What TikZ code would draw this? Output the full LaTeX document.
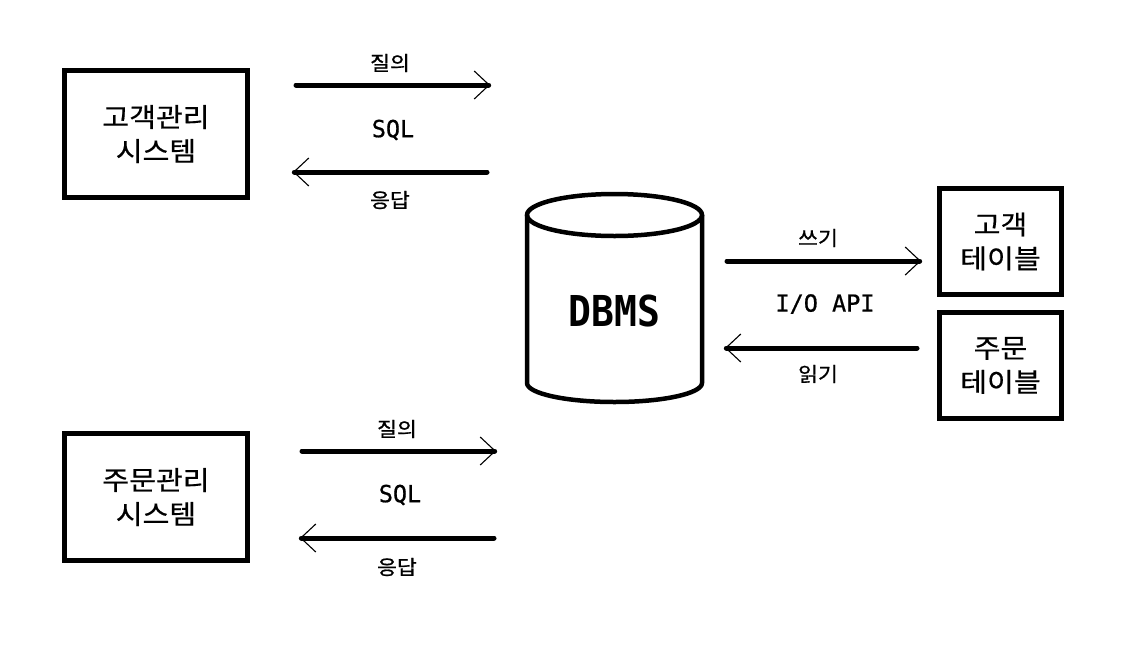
\documentclass[tikz,border=0pt]{standalone}
\usepackage{fontspec}
\setmainfont{Noto Sans CJK KR}
\newfontfamily\kofont[FakeStretch=1.1, FakeBold=0.5]{Noto Sans CJK KR}
\newfontfamily\kolbl[FakeStretch=1.08, FakeBold=0.8]{Noto Sans CJK KR}
\newfontfamily\monofont{DejaVu Sans Mono}
\newfontfamily\monomed[FakeBold=0.8]{DejaVu Sans Mono}
\usetikzlibrary{arrows.meta}
\begin{document}
\begin{tikzpicture}[x=1pt,y=-1pt,
  sysbox/.style={draw, line width=5pt, inner sep=0pt, font=\kofont\fontsize{26.5}{34}\selectfont, align=center},
  flow/.style={line width=5pt, line cap=round, -{Straight Barb[length=15pt,width=28pt,line width=1.1pt]}},
  lbl/.style={font=\kolbl\fontsize{20}{22}\selectfont, inner sep=0pt},
  api/.style={font=\monomed\fontsize{23.5}{26}\selectfont, inner sep=0pt}]
\useasboundingbox (0,0) rectangle (1143,654);
\fill[white] (0,0) rectangle (1143,654);

% system boxes
\node[sysbox, minimum width=183pt, minimum height=127pt] (cms) at (156,134) {고객관리\\시스템};
\node[sysbox, minimum width=183pt, minimum height=127pt] (oms) at (156,497) {주문관리\\시스템};
\node[sysbox, minimum width=122pt, minimum height=106pt] (ct) at (1000.5,241.5) {고객\\테이블};
\node[sysbox, minimum width=122pt, minimum height=106pt] (ot) at (1000.5,365.5) {주문\\테이블};

% DBMS cylinder
\draw[line width=4.5pt] (614.5,215) ellipse [x radius=87.5, y radius=21];
\draw[line width=4.5pt, line join=round] (527,215) -- (527,383) arc[start angle=180, end angle=360, x radius=87.5, y radius=-19] -- (702,215);
\node[font=\monofont\bfseries\fontsize{38}{40}\selectfont, inner sep=0pt, yscale=1.12] (db) at (614.5,311) {DBMS};

% coordinates for flows
\coordinate (q1s) at (296,85);  \coordinate (q1e) at (490,85);
\coordinate (r1s) at (487,172); \coordinate (r1e) at (293,172);
\coordinate (q2s) at (302,451); \coordinate (q2e) at (496,451);
\coordinate (r2s) at (494,538); \coordinate (r2e) at (300,538);
\coordinate (ws) at (727,261);  \coordinate (we) at (921,261);
\coordinate (rs) at (917,348);  \coordinate (re) at (725,348);

\draw[flow] (q1s) -- (q1e);
\draw[flow] (r1s) -- (r1e);
\draw[flow] (q2s) -- (q2e);
\draw[flow] (r2s) -- (r2e);
\draw[flow] (ws) -- (we);
\draw[flow] (rs) -- (re);

% labels
\node[lbl] (lq1) at (390,63) {질의};
\node[api] (sql1) at (393,130) {SQL};
\node[lbl] (lr1) at (390,200) {응답};
\node[lbl] (lq2) at (397,429) {질의};
\node[api] (sql2) at (400,495) {SQL};
\node[lbl] (lr2) at (397,567) {응답};
\node[lbl] (lw) at (818,238) {쓰기};
\node[api] (io) at (825,304) {I/O API};
\node[lbl] (lrd) at (818,374) {읽기};
\end{tikzpicture}
\end{document}
